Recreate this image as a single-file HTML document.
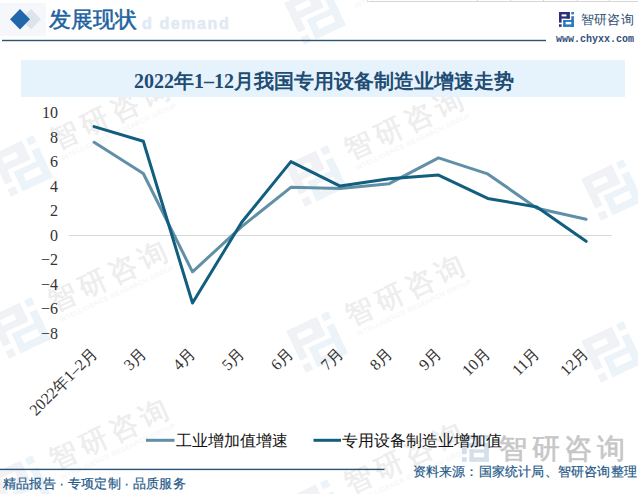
<!DOCTYPE html>
<html><head><meta charset="utf-8">
<style>
html,body{margin:0;padding:0;background:#fff;}
body{width:638px;height:494px;position:relative;overflow:hidden;font-family:"Liberation Sans",sans-serif;}
.a{position:absolute;white-space:nowrap;}
#hdr-title{left:49px;top:5px;font-size:22px;line-height:30px;color:#2163a0;font-family:"Liberation Sans",sans-serif;-webkit-text-stroke:0.5px #2163a0;}
#hdr-wm{left:142px;top:15px;font-size:16px;line-height:18px;color:#e0eaf4;font-weight:bold;letter-spacing:1.6px;-webkit-text-stroke:0.6px #e0eaf4;}
#hdr-line{left:2px;top:40px;width:544px;height:2px;background:#2f5f86;}
#hdr-url{left:556px;top:33px;font-size:10px;line-height:14px;color:#2f4f7a;font-family:"Liberation Mono",monospace;font-weight:bold;}
#hdr-brand{left:581px;top:12px;font-size:13px;line-height:16px;color:#2c4c72;letter-spacing:0.2px;}
#tbar{left:21px;top:60px;width:604px;height:37px;background:#e7f3fc;}
#ttl{left:134px;top:63px;height:37px;line-height:37px;font-family:"Liberation Serif",serif;font-weight:bold;font-size:20px;color:#1f4d74;}
.yl{position:absolute;right:580px;font-family:"Liberation Serif",serif;font-size:16px;line-height:16px;color:#333;}
.xl{position:absolute;font-family:"Liberation Serif",serif;font-size:16px;line-height:16px;color:#333;transform-origin:100% 0;transform:rotate(-45deg);white-space:nowrap;}
.lg{position:absolute;font-size:16px;line-height:18px;color:#111;white-space:nowrap;}
#foot-line{left:0;top:468px;width:384px;height:2px;background:#2f5f86;}
#foot-l{left:3px;top:476px;font-size:13px;line-height:15px;color:#245888;letter-spacing:0.2px;-webkit-text-stroke:0.2px #245888;}
.c{font-family:"Liberation Sans",sans-serif;}
#foot-r{right:1px;top:464px;font-size:13px;line-height:15px;color:#245888;letter-spacing:0.2px;-webkit-text-stroke:0.2px #245888;}
#big-wm{left:499px;top:433px;font-size:28px;line-height:32px;color:#c6c6c6;letter-spacing:4.5px;-webkit-text-stroke:0.6px #c6c6c6;}
</style></head>
<body>
<svg class="a" style="left:0;top:0" width="638" height="494" viewBox="0 0 638 494">
  <defs>
    <g id="icoa">
      <rect x="0" y="0" width="10.8" height="2.4"/>
      <rect x="7.5" y="0" width="3.3" height="6.6"/>
      <rect x="0" y="4.4" width="10.8" height="2.2"/>
      <rect x="0" y="0" width="2.6" height="10.6"/>
      <rect x="0" y="12.3" width="2.6" height="2.6"/>
    </g>
    <g id="icob">
      <rect x="12.3" y="0" width="2.6" height="2.4"/>
      <rect x="12.3" y="4.2" width="2.6" height="10.7"/>
      <rect x="4.2" y="8.0" width="10.7" height="1.9"/>
      <rect x="4.2" y="8.0" width="2.4" height="6.9"/>
      <rect x="4.2" y="12.4" width="10.7" height="2.5"/>
    </g>
    <g id="ico"><use href="#icoa"/><use href="#icob"/></g>
    <g id="wm">
      <g transform="translate(-23,-23) scale(3.1)"><use href="#icoa" fill="#f0f2f5"/><use href="#icob" fill="#ecf3f9"/></g>
      <text x="38" y="0" font-family="Liberation Sans" font-size="28" letter-spacing="5" fill="#ededed" stroke="#ededed" stroke-width="0.5">智研咨询</text>
      <text x="39" y="12" font-family="Liberation Sans" font-size="6.5" letter-spacing="0.6" fill="#f3f3f3">INTELLIGENCE RESEARCH GROUP</text>
    </g>
  </defs>
  <rect x="367" y="1" width="271" height="1" fill="#d6d6d6"/>
  <rect x="367" y="0" width="1" height="1" fill="#d6d6d6"/><rect x="477" y="0" width="1" height="1" fill="#d6d6d6"/><rect x="510" y="0" width="1" height="1" fill="#d6d6d6"/><rect x="543" y="0" width="1" height="1" fill="#d6d6d6"/><rect x="577" y="0" width="1" height="1" fill="#d6d6d6"/><rect x="609" y="0" width="1" height="1" fill="#d6d6d6"/>
  <!-- faint header watermark block -->
  <rect x="0" y="3" width="46" height="33" fill="#f5f7fa"/>
  <!-- tiled watermarks -->
  <use href="#wm" transform="translate(22,166) rotate(-25)"/>
  <use href="#wm" transform="translate(20,328) rotate(-25)"/>
  <use href="#wm" transform="translate(21,486) rotate(-25)"/>
  <use href="#wm" transform="translate(315,14) rotate(-25)"/>
  <use href="#wm" transform="translate(316,176) rotate(-25)"/>
  <use href="#wm" transform="translate(317,342) rotate(-25)"/>
  <use href="#wm" transform="translate(316,510) rotate(-25)"/>
  
  <use href="#wm" transform="translate(612,190) rotate(-25)"/>
  <use href="#wm" transform="translate(612,352) rotate(-25)"/>
</svg>
<div class="a" id="tbar"></div>
<div class="a" id="hdr-wm">d demand</div>
<svg class="a" style="left:0;top:0" width="638" height="494" viewBox="0 0 638 494">
  <!-- header diamonds -->
  <polygon points="31,9 41,19.3 31,29.6 21,19.3" fill="#dde4ec"/>
  <polygon points="20,9 30,19.3 20,29.6 10,19.3" fill="#2267a9"/>
  <!-- header logo -->
  <g transform="translate(559,12)">
    <g fill="#2b3079">
      <rect x="0" y="0" width="10.8" height="2.4"/>
      <rect x="7.5" y="0" width="3.3" height="6.6"/>
      <rect x="0" y="4.4" width="10.8" height="2.2"/>
      <rect x="0" y="0" width="2.6" height="10.6"/>
      <rect x="0" y="12.3" width="2.6" height="2.6"/>
    </g>
    <g fill="#2a78bd">
      <rect x="12.3" y="0" width="2.6" height="2.4"/>
      <rect x="12.3" y="4.2" width="2.6" height="10.7"/>
      <rect x="4.2" y="8.0" width="10.7" height="1.9"/>
      <rect x="4.2" y="8.0" width="2.4" height="6.9"/>
      <rect x="4.2" y="12.4" width="10.7" height="2.5"/>
    </g>
  </g>
  <rect x="2" y="39.8" width="544" height="1.4" fill="#2b5475"/>
  <rect x="0" y="468.7" width="384.5" height="1.4" fill="#2b5475"/>
  <!-- zero line -->
  <line x1="69" y1="235.5" x2="612" y2="235.5" stroke="#d9d9d9" stroke-width="1"/>
  <!-- light series -->
  <polyline fill="none" stroke="#6190a6" stroke-width="3" stroke-linejoin="round" stroke-linecap="round"
    points="94.1,142.3 143.3,173.5 192.5,271.8 241.7,226.6 290.9,187.3 340.1,188.6 389.3,183.7 438.5,157.9 487.7,173.9 536.9,208.2 586.1,219.2"/>
  <!-- dark series -->
  <polyline fill="none" stroke="#115e7f" stroke-width="3" stroke-linejoin="round" stroke-linecap="round"
    points="94.1,126.6 143.3,141.3 192.5,303.0 241.7,222.2 290.9,161.6 340.1,186.1 389.3,178.8 438.5,175.1 487.7,198.4 536.9,207.0 586.1,241.3"/>
  <!-- legend lines -->
  <line x1="146" y1="440.3" x2="174.5" y2="440.3" stroke="#6190a6" stroke-width="3"/>
  <line x1="313.5" y1="440.3" x2="341" y2="440.3" stroke="#115e7f" stroke-width="3"/>
  <!-- bottom-right logo watermark -->
  <g transform="translate(462,435) scale(1.8)" fill="#cad8e8" opacity="0.8"><use href="#ico"/></g>
</svg>
<div class="a" id="hdr-title">发展现状</div>
<div class="a" id="hdr-brand">智研咨询</div>
<div class="a" id="hdr-url">www.chyxx.com</div>
<div class="a" id="ttl">2022<span class="c">年</span>1–12<span class="c">月我国专用设备制造业增速走势</span></div>

<div class="yl" style="top:105px">10</div>
<div class="yl" style="top:130px">8</div>
<div class="yl" style="top:154px">6</div>
<div class="yl" style="top:179px">4</div>
<div class="yl" style="top:203px">2</div>
<div class="yl" style="top:228px">0</div>
<div class="yl" style="top:252px">−2</div>
<div class="yl" style="top:277px">−4</div>
<div class="yl" style="top:301px">−6</div>
<div class="yl" style="top:326px">−8</div>

<div class="xl" style="right:549px;top:345px">2022<span class="c">年</span>1–2<span class="c">月</span></div>
<div class="xl" style="right:500px;top:345px">3<span class="c">月</span></div>
<div class="xl" style="right:451px;top:345px">4<span class="c">月</span></div>
<div class="xl" style="right:402px;top:345px">5<span class="c">月</span></div>
<div class="xl" style="right:353px;top:345px">6<span class="c">月</span></div>
<div class="xl" style="right:303px;top:345px">7<span class="c">月</span></div>
<div class="xl" style="right:254px;top:345px">8<span class="c">月</span></div>
<div class="xl" style="right:205px;top:345px">9<span class="c">月</span></div>
<div class="xl" style="right:156px;top:345px">10<span class="c">月</span></div>
<div class="xl" style="right:107px;top:345px">11<span class="c">月</span></div>
<div class="xl" style="right:58px;top:345px">12<span class="c">月</span></div>

<div class="lg" style="left:176px;top:432px">工业增加值增速</div>
<div class="lg" style="left:342px;top:432px">专用设备制造业增加值</div>

<div class="a" id="big-wm">智研咨询</div>
<div class="a" id="foot-l">精品报告 · 专项定制 · 品质服务</div>
<div class="a" id="foot-r">资料来源：国家统计局、智研咨询整理</div>
</body></html>
